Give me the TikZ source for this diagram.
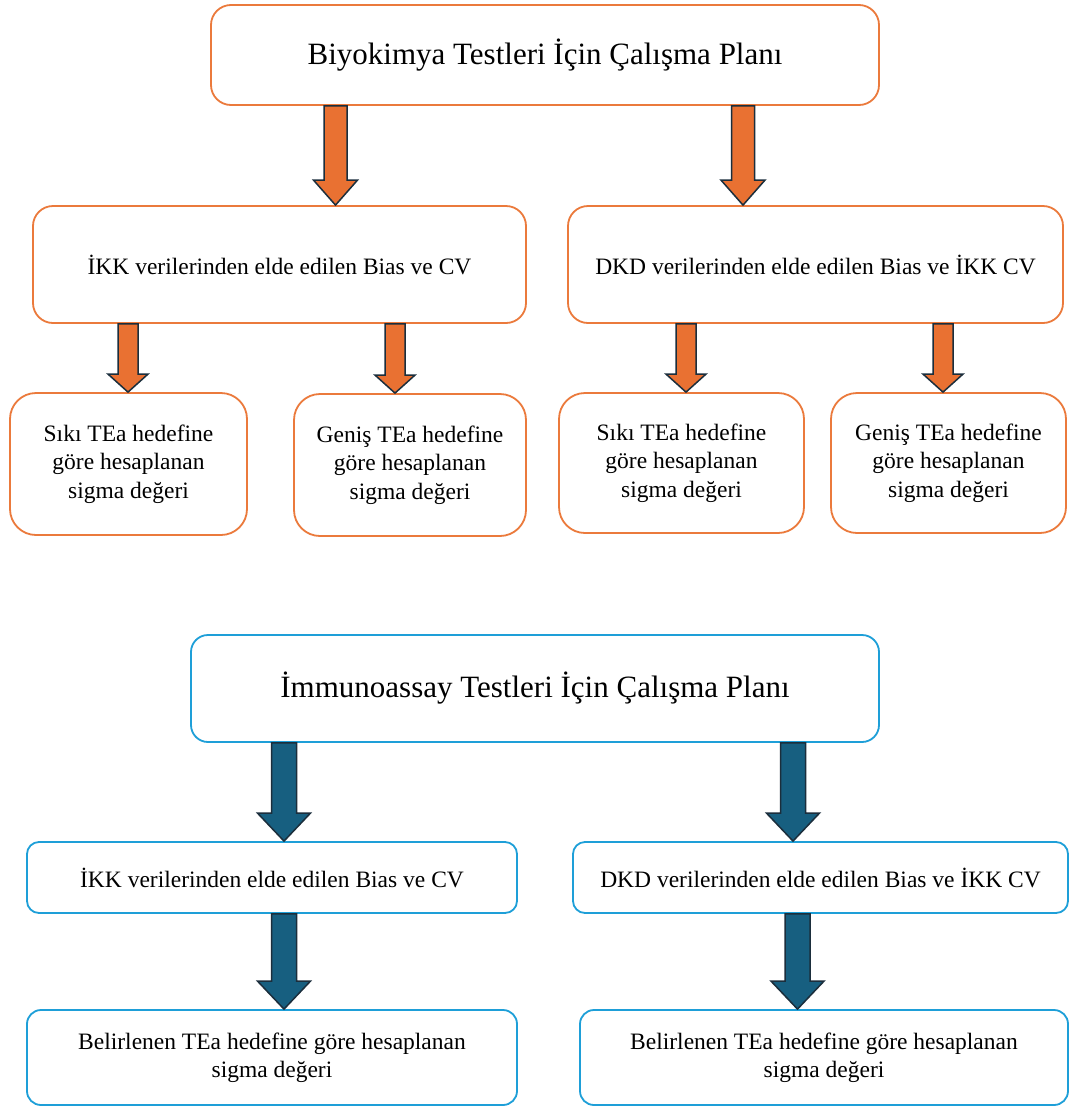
\documentclass[tikz,border=0pt]{standalone}
\usepackage{fontspec}
\setmainfont{Liberation Serif}
\usetikzlibrary{calc}
\definecolor{orng}{HTML}{E97132}
\definecolor{obord}{HTML}{EB7A3C}
\definecolor{bfill}{HTML}{175F80}
\definecolor{bbord}{HTML}{1E9FD8}
\definecolor{aout}{HTML}{1B2E3C}
\tikzset{
  obox/.style={draw=obord, line width=1.8pt, fill=white, inner sep=0pt, align=center},
  bbox/.style={draw=bbord, line width=1.8pt, fill=white, inner sep=0pt, align=center},
  oarrow/.style={fill=orng, draw=aout, line width=1.5pt, line join=miter},
  barrow/.style={fill=bfill, draw=aout, line width=1.5pt, line join=miter},
  bodytext/.style={font=\fontsize{23.5}{28.5}\selectfont},
}
% #1 style, #2 x, #3 from node, #4 to node, #5 half shaft, #6 half head, #7 head length
\newcommand\blockarrow[7]{%
  \path[#1] let \p1=(#3.south), \p2=(#4.north) in
    (#2-#5,\y1) -- (#2+#5,\y1) -- (#2+#5,\y2+#7pt) -- (#2+#6,\y2+#7pt)
    -- (#2,\y2) -- (#2-#6,\y2+#7pt) -- (#2-#5,\y2+#7pt) -- cycle;
}
\begin{document}
\begin{tikzpicture}[x=1pt,y=-1pt]
\path[use as bounding box, fill=white] (0,0) rectangle (1070,1109);

% ---------- Biyokimya ----------
\node[obox, rounded corners=20pt, minimum width=668pt, minimum height=100pt,
      font=\fontsize{31}{36}\selectfont] (t1) at (545,55) {Biyokimya Testleri İçin Çalışma Planı};
\node[obox, bodytext, rounded corners=20pt, minimum width=493pt, minimum height=117pt] (a) at (279.5,264.5)
  {İKK verilerinden elde edilen Bias ve CV};
\node[obox, bodytext, rounded corners=20pt, minimum width=495pt, minimum height=117pt] (b) at (815.5,264.5)
  {DKD verilerinden elde edilen Bias ve İKK CV};
\node[obox, bodytext, rounded corners=26pt, minimum width=237pt, minimum height=142pt] (l1) at (128.5,464)
  {\raisebox{0pt}[\height][\depth]{}Sıkı TEa hedefine\\göre hesaplanan\\sigma değeri};
\node[obox, bodytext, rounded corners=26pt, minimum width=232pt, minimum height=142pt] (l2) at (410,465)
  {Geniş TEa hedefine\\göre hesaplanan\\sigma değeri};
\node[obox, bodytext, rounded corners=26pt, minimum width=245pt, minimum height=140pt] (l3) at (681.5,463)
  {Sıkı TEa hedefine\\göre hesaplanan\\sigma değeri};
\node[obox, bodytext, rounded corners=26pt, minimum width=235pt, minimum height=140pt] (l4) at (948.5,463)
  {Geniş TEa hedefine\\göre hesaplanan\\sigma değeri};

\blockarrow{oarrow}{335.5}{t1}{a}{11.5}{22}{25}
\blockarrow{oarrow}{743}{t1}{b}{11.5}{22}{25}
\blockarrow{oarrow}{128}{a}{l1}{10}{20}{18}
\blockarrow{oarrow}{395}{a}{l2}{10}{20}{18}
\blockarrow{oarrow}{686}{b}{l3}{10}{20}{18}
\blockarrow{oarrow}{943}{b}{l4}{10}{20}{18}

% ---------- Immunoassay ----------
\node[bbox, rounded corners=17pt, minimum width=688pt, minimum height=107pt,
      font=\fontsize{31}{36}\selectfont] (t2) at (535,688.5) {İmmunoassay Testleri İçin Çalışma Planı};
\node[bbox, bodytext, rounded corners=12pt, minimum width=490pt, minimum height=71pt] (c) at (272,877.5)
  {İKK verilerinden elde edilen Bias ve CV};
\node[bbox, bodytext, rounded corners=12pt, minimum width=495pt, minimum height=71pt] (d) at (820.5,877.5)
  {DKD verilerinden elde edilen Bias ve İKK CV};
\node[bbox, bodytext, rounded corners=14pt, minimum width=490pt, minimum height=95pt] (e) at (272,1057.5)
  {Belirlenen TEa hedefine göre hesaplanan\\sigma değeri};
\node[bbox, bodytext, rounded corners=14pt, minimum width=488pt, minimum height=95pt] (f) at (824,1057.5)
  {Belirlenen TEa hedefine göre hesaplanan\\sigma değeri};

\blockarrow{barrow}{284}{t2}{c}{12.5}{26.5}{28}
\blockarrow{barrow}{793}{t2}{d}{12.5}{26.5}{28}
\blockarrow{barrow}{284}{c}{e}{12.5}{26.5}{28}
\blockarrow{barrow}{797.5}{d}{f}{12.5}{26.5}{28}
\end{tikzpicture}
\end{document}
